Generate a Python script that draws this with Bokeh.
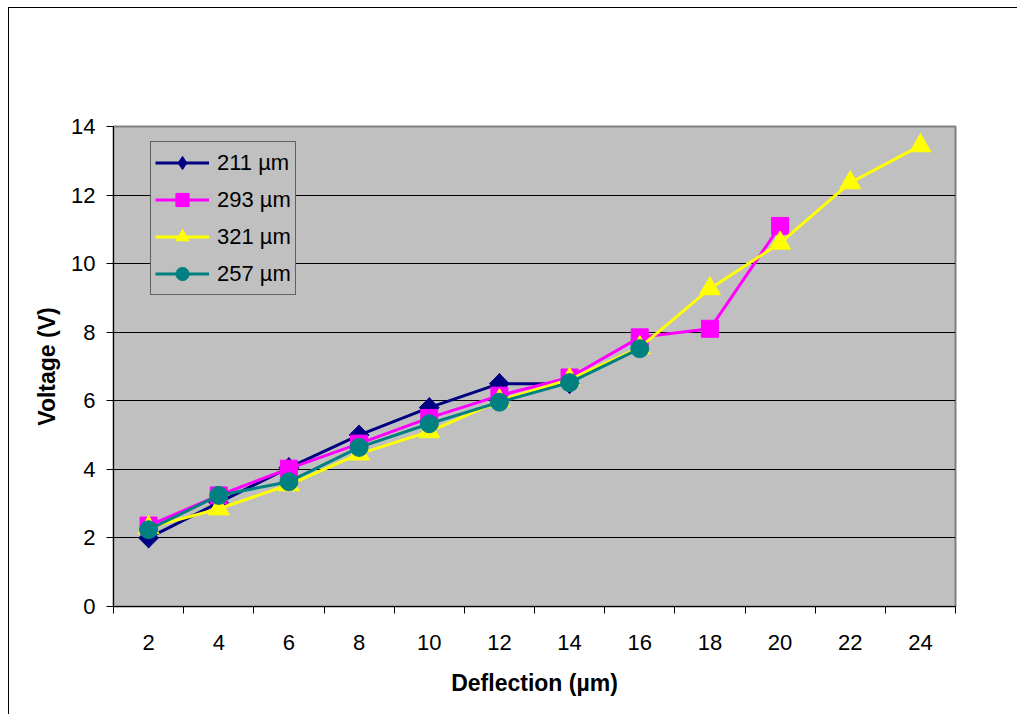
from bokeh.plotting import figure
from bokeh.models import FixedTicker, Range1d, Legend, LegendItem
from bokeh.embed import file_html
from bokeh.resources import INLINE
import math

# ---- data ----
deflection = [2, 4, 6, 8, 10, 12, 14, 16, 18, 20, 22, 24]
boundaries = [1, 3, 5, 7, 9, 11, 13, 15, 17, 19, 21, 23, 25]
y_ticks = [0, 2, 4, 6, 8, 10, 12, 14]

v211 = [2.0, 3.03, 4.05, 5.0, 5.8, 6.5, 6.5]
v293 = [2.36, 3.24, 4.02, 4.75, 5.5, 6.15, 6.68, 7.85, 8.1, 11.1]
v321 = [2.3, 2.85, 3.55, 4.45, 5.1, 6.0, 6.62, 7.55, 9.27, 10.6, 12.36, 13.44]
v257 = [2.24, 3.24, 3.64, 4.64, 5.33, 5.96, 6.53, 7.52]

labels = ["211 µm", "293 µm", "321 µm", "257 µm"]
series = [v211, v293, v321, v257]
colors = ["#000080", "#FF00FF", "#FFFF00", "#008080"]

FONT = "Liberation Sans"

p = figure(width=1009, height=707, output_backend="svg", toolbar_location=None,
           x_range=Range1d(1, 25), y_range=Range1d(0, 14),
           min_border_left=104, min_border_right=63, min_border_top=118, min_border_bottom=109,
           styles={"margin-left": "8px", "margin-top": "7px",
                   "border-left": "1px solid black", "border-top": "1px solid black"})
p.background_fill_color = "#C0C0C0"
p.border_fill_color = "white"
p.outline_line_color = "#808080"
p.outline_line_width = 2

# grid
p.xgrid.visible = False
p.ygrid.ticker = FixedTicker(ticks=y_ticks)
p.ygrid.grid_line_color = "black"
p.ygrid.grid_line_width = 1

# y axis
p.yaxis.ticker = FixedTicker(ticks=y_ticks)
p.yaxis.axis_line_color = "black"
p.yaxis.major_tick_out = 7
p.yaxis.major_tick_in = 0
p.yaxis.minor_tick_out = 0
p.yaxis.minor_tick_in = 0
p.yaxis.major_tick_line_color = "black"
p.yaxis.major_label_text_font = FONT
p.yaxis.major_label_text_font_size = "22px"
p.yaxis.major_label_text_color = "black"
p.yaxis.major_label_standoff = 11
p.yaxis.axis_label = "Voltage (V)"
p.yaxis.axis_label_text_font = FONT
p.yaxis.axis_label_text_font_size = "23px"
p.yaxis.axis_label_text_font_style = "bold"
p.yaxis.axis_label_text_color = "black"
p.yaxis.axis_label_standoff = 8

# x axis
p.xaxis.ticker = FixedTicker(ticks=deflection, minor_ticks=boundaries)
p.xaxis.axis_line_color = "black"
p.xaxis.major_tick_out = 0
p.xaxis.major_tick_in = 0
p.xaxis.minor_tick_out = 7
p.xaxis.minor_tick_in = 0
p.xaxis.minor_tick_line_color = "black"
p.xaxis.major_label_text_font = FONT
p.xaxis.major_label_text_font_size = "22px"
p.xaxis.major_label_text_color = "black"
p.xaxis.major_label_standoff = 21
p.xaxis.axis_label = "Deflection (µm)"
p.xaxis.axis_label_text_font = FONT
p.xaxis.axis_label_text_font_size = "23px"
p.xaxis.axis_label_text_font_style = "bold"
p.xaxis.axis_label_text_color = "black"
p.xaxis.axis_label_standoff = 17

items = []
for i, (lab, vals, col) in enumerate(zip(labels, series, colors)):
    xs = deflection[:len(vals)]
    ln = p.line(xs, vals, line_color=col, line_width=3)
    if i == 0:
        mk = p.scatter(xs, vals, marker="diamond", size=20, fill_color=col, line_color=col)
        p.scatter(xs, vals, marker="square", size=14, angle=math.pi / 4,
                  fill_color=col, line_color=col)
    elif i == 1:
        mk = p.scatter(xs, vals, marker="square", size=17, fill_color=col, line_color=col)
    elif i == 2:
        mk = p.scatter(xs, vals, marker="triangle", size=21, fill_color=col, line_color=col)
    else:
        mk = p.scatter(xs, vals, marker="circle", size=18, fill_color=col, line_color=col)
    items.append(LegendItem(label=lab, renderers=[ln, mk]))

legend = Legend(items=items, location=(37, 311))
legend.label_text_font = FONT
legend.label_text_font_size = "22px"
legend.label_text_color = "black"
legend.background_fill_color = "#C0C0C0"
legend.background_fill_alpha = 1
legend.border_line_color = "black"
legend.border_line_width = 1
legend.glyph_width = 54
legend.glyph_height = 33
legend.label_height = 33
legend.spacing = 4
legend.padding = 4
legend.margin = 0
legend.label_standoff = 8
p.add_layout(legend)

open("out.html", "w").write(file_html(p, INLINE))
